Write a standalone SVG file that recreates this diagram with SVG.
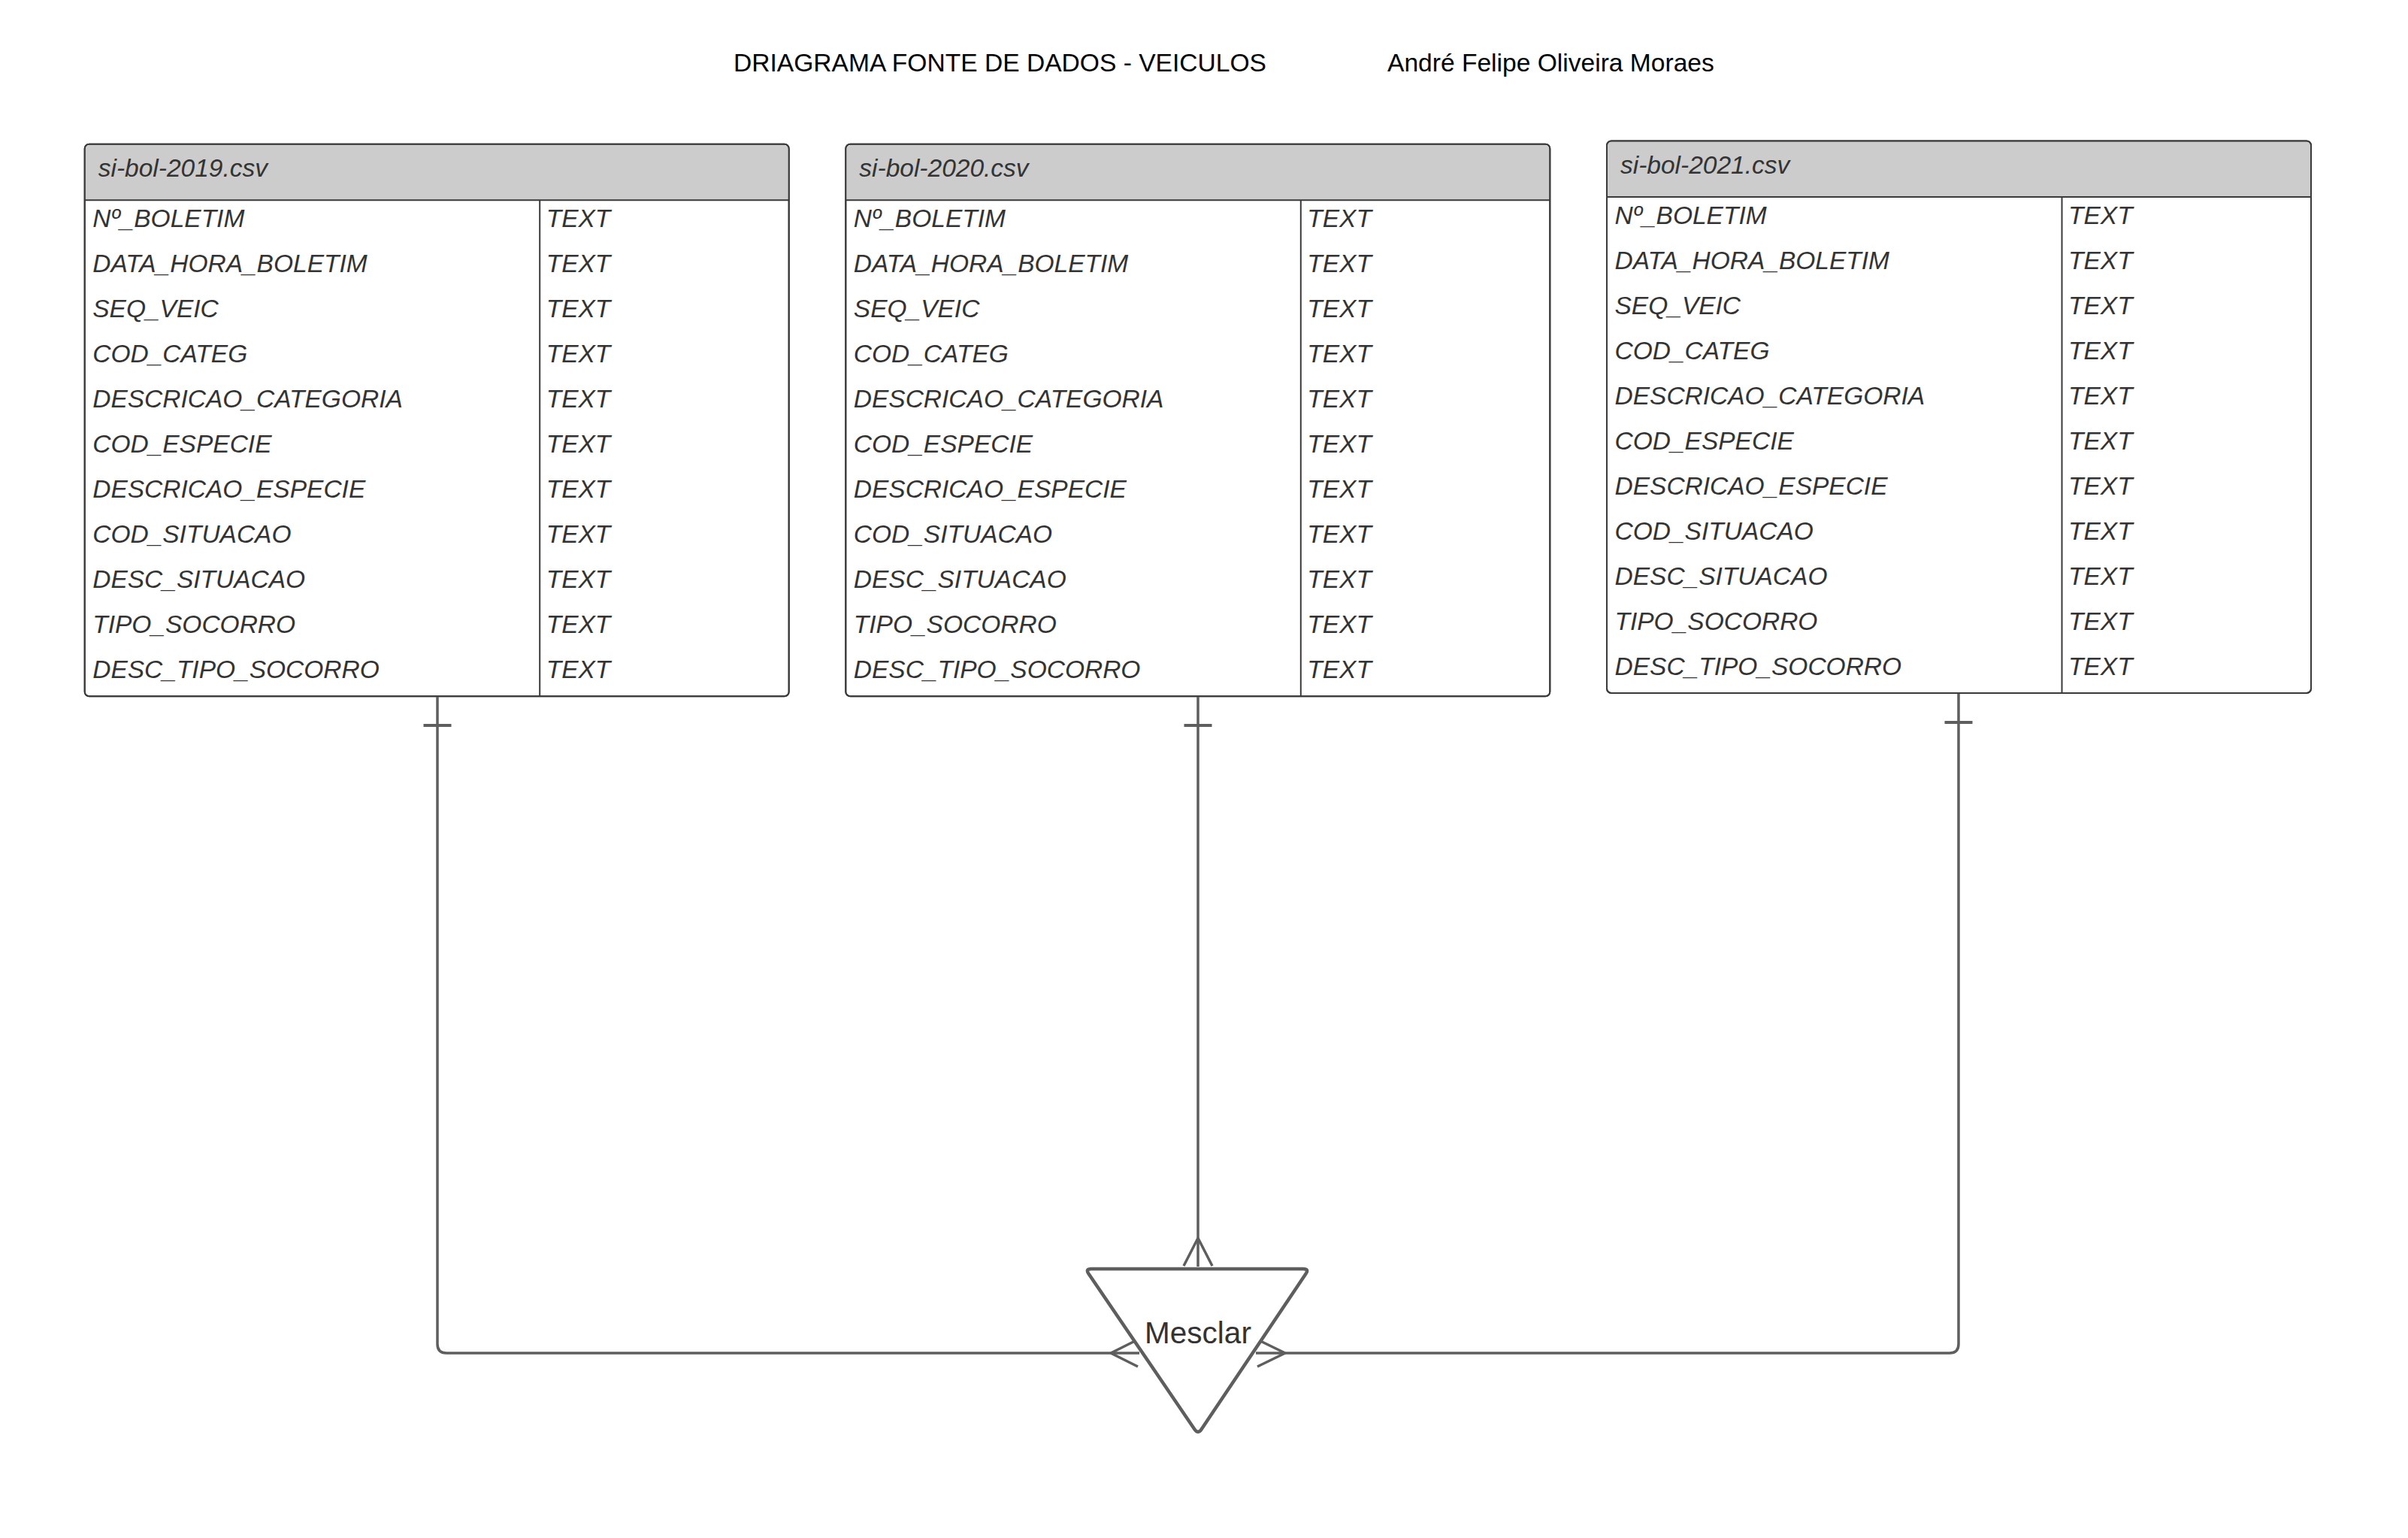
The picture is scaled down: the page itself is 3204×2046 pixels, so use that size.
<svg xmlns="http://www.w3.org/2000/svg" width="3204" height="2046" viewBox="0 0 3204 2046">
<style>
.title{font-family:"Liberation Sans",Arial,sans-serif;font-size:33.6px;fill:#000}
.tbl{fill:#fff;stroke:#3a3a3a;stroke-width:2}
.hdr{fill:#cccccc;stroke:none}
.ln{stroke:#3a3a3a;stroke-width:2;fill:none}
.ht{font-family:"Liberation Sans",Arial,sans-serif;font-size:33.5px;font-style:italic;fill:#333}
.rt{font-family:"Liberation Sans",Arial,sans-serif;font-size:33.5px;font-style:italic;fill:#333}
.conn{stroke:#5e5e5e;stroke-width:3.5;fill:none;stroke-linecap:butt}
.tick{stroke:#5e5e5e;stroke-width:4;fill:none}
.tri{fill:#fff;stroke:#5e5e5e;stroke-width:4.5;stroke-linejoin:round}
.lbl{font-family:"Liberation Sans",Arial,sans-serif;font-size:40.5px;fill:#333;text-anchor:middle}
</style>
<defs>
<g id="rows">
<text class="rt" x="10.5" y="110.5">Nº_BOLETIM</text>
<text class="rt" x="10.5" y="170.5">DATA_HORA_BOLETIM</text>
<text class="rt" x="10.5" y="230.5">SEQ_VEIC</text>
<text class="rt" x="10.5" y="290.5">COD_CATEG</text>
<text class="rt" x="10.5" y="350.5">DESCRICAO_CATEGORIA</text>
<text class="rt" x="10.5" y="410.5">COD_ESPECIE</text>
<text class="rt" x="10.5" y="470.5">DESCRICAO_ESPECIE</text>
<text class="rt" x="10.5" y="530.5">COD_SITUACAO</text>
<text class="rt" x="10.5" y="590.5">DESC_SITUACAO</text>
<text class="rt" x="10.5" y="650.5">TIPO_SOCORRO</text>
<text class="rt" x="10.5" y="710.5">DESC_TIPO_SOCORRO</text>
<text class="rt" x="614" y="110.5">TEXT</text>
<text class="rt" x="614" y="170.5">TEXT</text>
<text class="rt" x="614" y="230.5">TEXT</text>
<text class="rt" x="614" y="290.5">TEXT</text>
<text class="rt" x="614" y="350.5">TEXT</text>
<text class="rt" x="614" y="410.5">TEXT</text>
<text class="rt" x="614" y="470.5">TEXT</text>
<text class="rt" x="614" y="530.5">TEXT</text>
<text class="rt" x="614" y="590.5">TEXT</text>
<text class="rt" x="614" y="650.5">TEXT</text>
<text class="rt" x="614" y="710.5">TEXT</text>
</g>
<g id="frame">
<rect class="tbl" x="0" y="0" width="937" height="734.5" rx="6"/>
<path class="hdr" d="M1 74.5 V7 Q1 1 7 1 H930 Q936 1 936 7 V74.5 Z"/>
<rect x="0" y="0" width="937" height="734.5" rx="6" fill="none" stroke="#3a3a3a" stroke-width="2"/>
<line class="ln" x1="0" y1="74.5" x2="937" y2="74.5"/>
<line class="ln" x1="605.5" y1="74.5" x2="605.5" y2="734.5"/>
</g>
</defs>

<g id="title">
<text class="title" x="976" y="95">DRIAGRAMA FONTE DE DADOS - VEICULOS</text>
<text class="title" x="1846" y="95">André Felipe Oliveira Moraes</text>
</g>

<g id="table-2019" transform="translate(112.7,191.7)">
<use href="#frame"/>
<text class="ht" x="18" y="43.5">si-bol-2019.csv</text>
<use href="#rows"/>
</g>

<g id="table-2020" transform="translate(1125.3,191.7)">
<use href="#frame"/>
<text class="ht" x="18" y="43.5">si-bol-2020.csv</text>
<use href="#rows"/>
</g>

<g id="table-2021" transform="translate(2138,187.5)">
<use href="#frame"/>
<text class="ht" x="18" y="43.5">si-bol-2021.csv</text>
<use href="#rows"/>
</g>

<g id="connectors">
<path class="conn" d="M582 927 V1788 Q582 1800 594 1800 H1516"/>
<line class="tick" x1="563.5" y1="965" x2="600.5" y2="965"/>
<path class="conn" d="M1478 1800 L1514 1782 M1478 1800 L1514 1818"/>

<path class="conn" d="M1594 927 V1685"/>
<line class="tick" x1="1575.5" y1="965" x2="1612.5" y2="965"/>
<path class="conn" d="M1594 1647 L1575 1684 M1594 1647 L1613 1684"/>

<path class="conn" d="M2606 923 V1788 Q2606 1800 2594 1800 H1671"/>
<line class="tick" x1="2587.5" y1="961" x2="2624.5" y2="961"/>
<path class="conn" d="M1710 1800 L1673 1782 M1710 1800 L1673 1818"/>
</g>

<g id="mesclar">
<path class="tri" d="M1452 1688 L1734 1688 Q1742 1688 1737.5 1694.6 L1598.5 1901.4 Q1594 1908 1589.5 1901.4 L1448.5 1694.6 Q1444 1688 1452 1688 Z"/>
<text class="lbl" x="1594" y="1787">Mesclar</text>
</g>
</svg>
